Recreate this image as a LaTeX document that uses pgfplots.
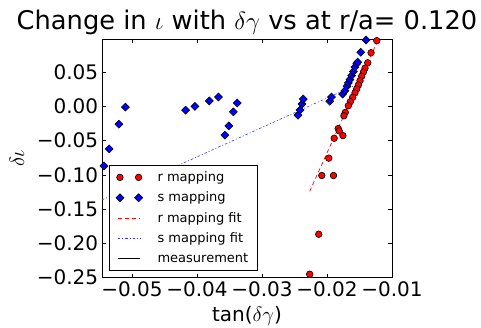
\documentclass[border=0pt]{standalone}
\usepackage{fontspec}
\setmainfont{DejaVu Sans}
\usepackage{pgfplots}
\pgfplotsset{compat=1.18}
\definecolor{mred}{RGB}{255,0,0}
\definecolor{mblue}{RGB}{0,0,255}
\pgfplotsset{
  twomarks/.style={legend image code/.code={\draw[##1] plot coordinates {(2.3pt,0pt) (21pt,0pt)};}},
  shortline/.style={legend image code/.code={\draw[##1] (0pt,0pt) -- (22.6pt,0pt);}},
}
\begin{document}
\begin{tikzpicture}
\useasboundingbox (-102pt,-49.5pt) rectangle (379pt,277.5pt);
\begin{axis}[
  at={(0pt,0pt)}, anchor=south west,
  width=290pt, height=238.2pt, scale only axis,
  xmin=-0.0546, xmax=-0.01, ymin=-0.25, ymax=0.098,
  scaled x ticks=false, scaled y ticks=false,
  xtick={-0.05,-0.04,-0.03,-0.02,-0.01},
  xticklabels={−0.05,−0.04,−0.03,−0.02,−0.01},
  ytick={-0.25,-0.2,-0.15,-0.1,-0.05,0,0.05},
  yticklabels={−0.25,−0.20,−0.15,−0.10,−0.05,0.00,0.05},
  tick align=inside, tick pos=both, major tick length=4pt,
  tick style={black, line width=0.6pt},
  axis line style={line width=0.8pt},
  every x tick label/.append style={font=\fontsize{20}{24}\selectfont, anchor=base, inner sep=0pt, yshift=-19.2pt},
  every y tick label/.append style={font=\fontsize{20}{24}\selectfont, anchor=east, inner sep=0pt, xshift=-3.7pt},
  title={Change in $\iota$ with $\delta\gamma$ vs at r/a= 0.120},
  title style={at={(axis description cs:0.5,1)}, anchor=base, yshift=4.3pt, inner sep=0pt, font=\fontsize{25.7}{30}\selectfont},
  xlabel={tan($\delta\gamma$)},
  xlabel style={at={(axis description cs:0.5,0)}, anchor=base, yshift=-44.2pt, inner sep=0pt, font=\fontsize{20}{24}\selectfont},
  ylabel={$\delta\iota$},
  ylabel style={at={(axis description cs:-0.293,0.5)}, anchor=center, inner sep=0pt, font=\fontsize{20}{24}\selectfont},
  legend style={at={(axis description cs:0.024,0.031)}, anchor=south west,
    font=\fontsize{13}{15.6}\selectfont, draw=black, line width=0.6pt,
    inner xsep=6.7pt, inner ysep=4pt, row sep=5pt, column sep=13pt},
  legend cell align=left,
]
\addplot[only marks, mark=*, mark size=3.3pt, mark options={fill=mred, draw=black, line width=0.6pt}, twomarks]
coordinates {
(-0.01234,0.096) (-0.01322,0.0784) (-0.01373,0.0637) (-0.01415,0.0559) (-0.0144,0.050)
(-0.01466,0.0441) (-0.01492,0.0376) (-0.01517,0.0313) (-0.01543,0.0254) (-0.0157,0.0196)
(-0.01605,0.0132) (-0.0164,0.0068) (-0.01672,0.0009) (-0.01718,-0.0088) (-0.0174,-0.0138)
(-0.01827,-0.0324) (-0.01812,-0.0358) (-0.01755,-0.0427) (-0.01889,-0.0466) (-0.01972,-0.0756)
(-0.0208,-0.101) (-0.0190,-0.101) (-0.02127,-0.1868) (-0.02266,-0.2452)
};
\addlegendentry{r mapping}
\addplot[only marks, mark=square*, mark size=2.8pt, mark options={rotate=45, fill=mblue, draw=black, line width=0.6pt}, twomarks]
coordinates {
(-0.0543,-0.087) (-0.0535,-0.062) (-0.0520,-0.026) (-0.0510,-0.001)
(-0.04175,-0.0055) (-0.0403,0.000) (-0.0381,0.008) (-0.0367,0.0137)
(-0.0338,0.005) (-0.0344,-0.008) (-0.0351,-0.0285) (-0.0357,-0.042)
(-0.02446,-0.0128) (-0.02415,-0.0054) (-0.02384,0.0034) (-0.02364,0.0107)
(-0.01957,0.0074) (-0.0193,0.0137) (-0.0176,0.018) (-0.01724,0.0229)
(-0.01693,0.0294) (-0.01672,0.0343) (-0.01647,0.0391) (-0.0162,0.045)
(-0.01594,0.0509) (-0.0157,0.0573) (-0.01543,0.0622) (-0.01528,0.0647)
(-0.0148,0.079) (-0.01399,0.097)
};
\addlegendentry{s mapping}
\addplot[mred, no markers, line width=0.7pt, dash pattern=on 4pt off 3pt, shortline]
coordinates {(-0.02266,-0.124) (-0.0120,0.100)};
\addlegendentry{r mapping fit}
\addplot[mblue!80, no markers, line width=0.6pt, dash pattern=on 2.5pt off 2pt on 1pt off 2pt, shortline]
coordinates {(-0.0546,-0.1366) (-0.0144,0.0363)};
\addlegendentry{s mapping fit}
\addlegendimage{black, line width=0.8pt, shortline}
\addlegendentry{measurement}
\end{axis}
\end{tikzpicture}
\end{document}
